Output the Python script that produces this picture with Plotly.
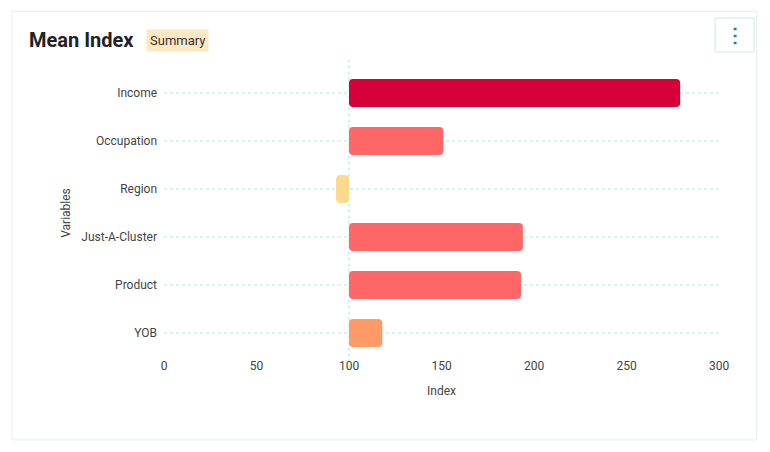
import plotly.graph_objects as go

variables = ["Income", "Occupation", "Region", "Just-A-Cluster", "Product", "YOB"]
index_values = [279, 151, 93, 194, 193, 118]
bar_colors = ["#d50037", "#ff6666", "#ffd98e", "#ff6666", "#ff6666", "#ff9966"]
baseline = 100

fig = go.Figure()
fig.add_trace(go.Bar(
    y=variables,
    x=[v - baseline for v in index_values],
    base=baseline,
    orientation="h",
    marker=dict(color=bar_colors, line=dict(width=0)),
    hovertemplate="%{y}: %{customdata}<extra></extra>",
    customdata=index_values,
))

fig.update_layout(
    width=770, height=452,
    paper_bgcolor="white", plot_bgcolor="white",
    margin=dict(l=156, r=59, t=61, b=103),
    bargap=0.42, barcornerradius=4,
    showlegend=False,
    font=dict(family="Roboto", size=12, color="#444"),
    xaxis=dict(range=[0, 300], dtick=50, showgrid=False, zeroline=False,
               showline=False, ticks="", ticklen=0,
               title=dict(text="Index", font=dict(size=12, color="#444"), standoff=14)),
    yaxis=dict(autorange="reversed", showgrid=True, gridcolor="#d3f0fb",
               griddash="dot", gridwidth=2, zeroline=False, ticks="",
               ticksuffix="  ",
               title=dict(text="Variables", font=dict(size=12, color="#444"), standoff=8)),
    shapes=[
        # card
        dict(type="rect", xref="paper", yref="paper", x0=-0.274, x1=1.068, y0=-0.288, y1=1.2,
             line=dict(color="#e4eef2", width=1), layer="below"),
        # baseline
        dict(type="line", xref="x", yref="paper", x0=baseline, x1=baseline, y0=-0.04, y1=1.04,
             line=dict(color="#d3f0fb", width=2, dash="dot"), layer="below"),
        # kebab button
        dict(type="rect", xref="paper", yref="paper", x0=0.993, x1=1.063, y0=1.059, y1=1.177,
             line=dict(color="#cde6ee", width=1), fillcolor="white"),
    ],
    annotations=[
        dict(text="<b>Mean Index</b>", xref="paper", yref="paper", x=-0.247, y=1.1,
             xanchor="left", yanchor="middle", showarrow=False,
             font=dict(size=20, color="#222")),
        dict(text="Summary", xref="paper", yref="paper", x=-0.032, y=1.1,
             xanchor="left", yanchor="middle", showarrow=False, bgcolor="#fde8c2",
             borderpad=3, font=dict(size=13, color="#333")),
        dict(text="<b>⋮</b>", xref="paper", yref="paper", x=1.028, y=1.118,
             xanchor="center", yanchor="middle", showarrow=False,
             font=dict(size=20, color="#2a7fa8")),
    ],
)

fig.write_html("out.html")
